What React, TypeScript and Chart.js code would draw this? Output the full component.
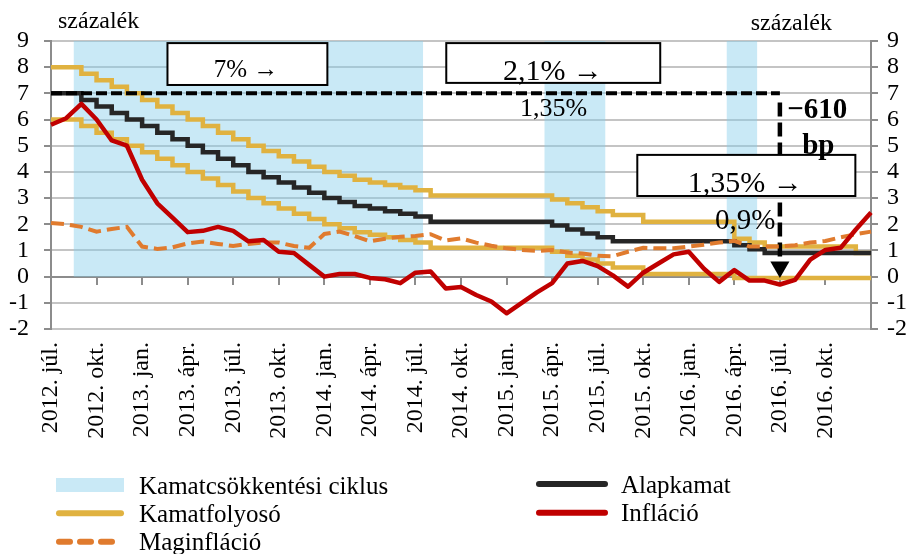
import React, { useEffect, useRef } from 'react';
import { Chart, registerables } from 'chart.js';

Chart.register(...registerables);

const FONT = '"Liberation Serif", "Times New Roman", serif';

const months = [
  '2012. júl.', '2012. aug.', '2012. szept.', '2012. okt.', '2012. nov.', '2012. dec.',
  '2013. jan.', '2013. febr.', '2013. márc.', '2013. ápr.', '2013. máj.', '2013. jún.',
  '2013. júl.', '2013. aug.', '2013. szept.', '2013. okt.', '2013. nov.', '2013. dec.',
  '2014. jan.', '2014. febr.', '2014. márc.', '2014. ápr.', '2014. máj.', '2014. jún.',
  '2014. júl.', '2014. aug.', '2014. szept.', '2014. okt.', '2014. nov.', '2014. dec.',
  '2015. jan.', '2015. febr.', '2015. márc.', '2015. ápr.', '2015. máj.', '2015. jún.',
  '2015. júl.', '2015. aug.', '2015. szept.', '2015. okt.', '2015. nov.', '2015. dec.',
  '2016. jan.', '2016. febr.', '2016. márc.', '2016. ápr.', '2016. máj.', '2016. jún.',
  '2016. júl.', '2016. aug.', '2016. szept.', '2016. okt.', '2016. nov.', '2016. dec.',
  '2017. jan.',
];

// Kamatcsökkentési ciklus (9 = inside an easing cycle, 0 = outside)
const easingCycle = [
  0, 0, 9, 9, 9, 9, 9, 9, 9, 9, 9, 9, 9, 9, 9, 9, 9, 9, 9, 9, 9, 9, 9, 9, 9,
  0, 0, 0, 0, 0, 0, 0, 0, 9, 9, 9, 9, 0, 0, 0, 0, 0, 0, 0, 0, 9, 9, 0, 0, 0,
  0, 0, 0, 0, 0,
];

const baseRate = [
  7, 7, 6.75, 6.5, 6.25, 6, 5.75, 5.5, 5.25, 5, 4.75, 4.5, 4.25, 4, 3.8, 3.6, 3.4, 3.2,
  3, 2.85, 2.7, 2.6, 2.5, 2.4, 2.3, 2.1, 2.1, 2.1, 2.1, 2.1, 2.1, 2.1, 2.1, 1.95, 1.8, 1.65,
  1.5, 1.35, 1.35, 1.35, 1.35, 1.35, 1.35, 1.35, 1.35, 1.2, 1.05, 0.9, 0.9, 0.9, 0.9, 0.9,
  0.9, 0.9, 0.9,
];

const corridorUpper = [
  8, 8, 7.75, 7.5, 7.25, 7, 6.75, 6.5, 6.25, 6, 5.75, 5.5, 5.25, 5, 4.8, 4.6, 4.4, 4.2,
  4, 3.85, 3.7, 3.6, 3.5, 3.4, 3.3, 3.1, 3.1, 3.1, 3.1, 3.1, 3.1, 3.1, 3.1, 2.95, 2.8, 2.65,
  2.5, 2.35, 2.35, 2.1, 2.1, 2.1, 2.1, 2.1, 2.1, 1.45, 1.3, 1.15, 1.15, 1.15, 1.15, 1.15,
  1.15, 0.9, 0.9,
];

const corridorLower = [
  6, 6, 5.75, 5.5, 5.25, 5, 4.75, 4.5, 4.25, 4, 3.75, 3.5, 3.25, 3, 2.8, 2.6, 2.4, 2.2,
  2, 1.85, 1.7, 1.6, 1.5, 1.4, 1.3, 1.1, 1.1, 1.1, 1.1, 1.1, 1.1, 1.1, 1.1, 0.95, 0.8, 0.65,
  0.5, 0.35, 0.35, 0.1, 0.1, 0.1, 0.1, 0.1, 0.1, -0.05, -0.05, -0.05, -0.05, -0.05, -0.05,
  -0.05, -0.05, -0.05, -0.05,
];

const inflation = [
  5.8, 6.05, 6.6, 6.0, 5.2, 5.0, 3.7, 2.8, 2.25, 1.7, 1.75, 1.9, 1.75, 1.35, 1.4, 0.95, 0.9,
  0.45, 0.0, 0.1, 0.1, -0.05, -0.1, -0.25, 0.15, 0.2, -0.45, -0.4, -0.7, -0.95, -1.4, -1.0,
  -0.6, -0.25, 0.5, 0.6, 0.4, 0.05, -0.38, 0.15, 0.5, 0.85, 0.95, 0.3, -0.2, 0.25, -0.15,
  -0.15, -0.3, -0.12, 0.65, 1.02, 1.1, 1.8, 2.45,
];

const coreInflation = [
  2.05, 2.0, 1.9, 1.72, 1.82, 1.9, 1.15, 1.06, 1.12, 1.27, 1.34, 1.25, 1.17, 1.25, 1.3, 1.3,
  1.17, 1.1, 1.63, 1.72, 1.55, 1.35, 1.45, 1.52, 1.55, 1.62, 1.38, 1.46, 1.3, 1.18, 1.08,
  1.02, 0.98, 1.02, 0.92, 0.88, 0.8, 0.78, 0.95, 1.1, 1.08, 1.08, 1.15, 1.22, 1.3, 1.37,
  1.15, 1.15, 1.15, 1.2, 1.3, 1.36, 1.5, 1.62, 1.72,
];

// 7% reference level held until the start of the arrow
const startLevel = [
  7, 7, 7, 7, 7, 7, 7, 7, 7, 7, 7, 7, 7, 7, 7, 7, 7, 7, 7, 7, 7, 7, 7, 7, 7, 7, 7, 7, 7,
  7, 7, 7, 7, 7, 7, 7, 7, 7, 7, 7, 7, 7, 7, 7, 7, 7, 7, 7, 7, null, null, null, null, null,
  null,
];

// −610 bp arrow: from / to (percent) at month label index
const arrowMonth = months[48];
const arrowLevels = [6.65, 0.37];

const BLUE = 'rgba(135, 206, 235, 0.45)';
const BLUE_SOLID = 'rgb(201, 233, 246)';
const YELLOW = '#E0B240';
const BLACK = '#262626';
const RED = '#C00000';
const ORANGE = '#E07B2E';
const GRID = '#c4c4c4';
const AXIS = '#8c8c8c';

const overlayPlugin = {
  id: 'overlay',
  afterDatasetsDraw(chart: any) {
    const ctx = chart.ctx as CanvasRenderingContext2D;
    const xs = chart.scales.x;
    const ys = chart.scales.y;
    const px = (i: number) => xs.getPixelForValue(i);
    const py = (v: number) => ys.getPixelForValue(v);
    ctx.save();
    const box = (i0: number, i1: number, v0: number, v1: number) => {
      const x0 = px(i0), x1 = px(i1), y0 = py(v0), y1 = py(v1);
      ctx.fillStyle = '#fff';
      ctx.fillRect(x0, y0, x1 - x0, y1 - y0);
      ctx.strokeStyle = '#000';
      ctx.lineWidth = 2;
      ctx.strokeRect(x0, y0, x1 - x0, y1 - y0);
    };
    const text = (s: string, i: number, v: number, size: number, align: CanvasTextAlign = 'center', bold = false) => {
      ctx.font = `${bold ? 'bold ' : ''}${size}px ${FONT}`;
      ctx.fillStyle = '#000';
      ctx.textAlign = align;
      ctx.textBaseline = 'alphabetic';
      ctx.fillText(s, px(i), py(v));
    };
    box(7.67, 18.2, 8.92, 7.32);
    text('7% →', 12.84, 7.62, 25);
    box(26.03, 40.12, 8.92, 7.4);
    text('2,1% →', 33.05, 7.51, 30);
    text('1,35%', 33.1, 6.13, 26);
    box(38.61, 52.97, 4.65, 3.08);
    text('−610', 48.49, 6.06, 29, 'left', true);
    text('bp', 50.53, 4.68, 29, 'center', true);
    text('1,35% →', 45.72, 3.23, 30);
    text('0,9%', 45.72, 1.82, 29);
    ctx.restore();
  },
  afterDraw(chart: any) {
    const ctx = chart.ctx as CanvasRenderingContext2D;
    const area = chart.chartArea;
    ctx.save();
    ctx.fillStyle = '#000';
    ctx.font = `24px ${FONT}`;
    ctx.textBaseline = 'alphabetic';
    ctx.textAlign = 'left';
    ctx.fillText('százalék', area.left + 7, area.top - 13);
    ctx.textAlign = 'right';
    ctx.fillText('százalék', area.right - 39, area.top - 11);

    // legend
    const rows = [485, 513.3, 541.7];
    const colL = 56, colR = 536, swW = 68, swWR = 72;
    const line = (x0: number, x1: number, y: number, color: string, dash: number[] = []) => {
      ctx.beginPath();
      ctx.setLineDash(dash);
      ctx.lineCap = 'round';
      ctx.lineWidth = 6;
      ctx.strokeStyle = color;
      ctx.moveTo(x0 + 3, y);
      ctx.lineTo(x1 - 3, y);
      ctx.stroke();
      ctx.setLineDash([]);
    };
    ctx.fillStyle = BLUE_SOLID;
    ctx.fillRect(colL, rows[0] - 7, swW, 14);
    line(colL, colL + swW, rows[1], YELLOW);
    line(colL, colL + swW, rows[2], ORANGE, [11, 10]);
    line(colR, colR + swWR, rows[0] - 1, BLACK);
    line(colR, colR + swWR, rows[1] - 0.5, RED);
    ctx.fillStyle = '#000';
    ctx.font = `25px ${FONT}`;
    ctx.textAlign = 'left';
    ctx.fillText('Kamatcsökkentési ciklus', 139, rows[0] + 8.5);
    ctx.fillText('Kamatfolyosó', 139, rows[1] + 8.5);
    ctx.fillText('Maginfláció', 139, rows[2] + 8.5);
    ctx.fillText('Alapkamat', 621, rows[0] + 8);
    ctx.fillText('Infláció', 621, rows[1] + 8);
    ctx.restore();
  },
};

export default function App() {
  const ref = useRef<HTMLCanvasElement>(null);
  useEffect(() => {
    document.body.style.margin = '0';
    const canvas = ref.current!;
    const tickFont = { family: FONT, size: 24 };
    const chart = new Chart(canvas, {
      type: 'line',
      data: {
        labels: months,
        datasets: [
          {
            label: 'Infláció', data: inflation, borderColor: RED, borderWidth: 4.5,
            pointRadius: 0, order: 1, borderJoinStyle: 'round',
          },
          {
            label: 'Maginfláció', data: coreInflation, borderColor: ORANGE, borderWidth: 4,
            borderDash: [13, 6], pointRadius: 0, order: 2,
          },
          {
            label: '−610 bp', data: [
              { x: arrowMonth, y: arrowLevels[0] },
              { x: arrowMonth, y: arrowLevels[1] },
            ] as any,
            borderColor: '#000', borderWidth: 4.5, borderDash: [14, 6],
            pointRadius: [0, 11], pointStyle: 'triangle', pointRotation: 180,
            pointBackgroundColor: '#000', pointBorderColor: '#000', pointBorderWidth: 0, order: 3,
          },
          {
            label: '7%', data: startLevel, borderColor: '#000', borderWidth: 4,
            borderDash: [11, 4], pointRadius: 0, order: 4,
          },
          {
            label: 'Alapkamat', data: baseRate, stepped: 'before', borderColor: BLACK,
            borderWidth: 4.5, pointRadius: 0, order: 5,
          },
          {
            label: 'Kamatfolyosó (felső)', data: corridorUpper, stepped: 'before', borderColor: YELLOW,
            borderWidth: 4.5, pointRadius: 0, order: 6,
          },
          {
            label: 'Kamatfolyosó (alsó)', data: corridorLower, stepped: 'before', borderColor: YELLOW,
            borderWidth: 4.5, pointRadius: 0, order: 7,
          },
          {
            label: 'Kamatcsökkentési ciklus', data: easingCycle, stepped: 'middle', fill: 'origin',
            backgroundColor: BLUE, borderColor: 'transparent', borderWidth: 0, pointRadius: 0, order: 10,
          },
        ] as any,
      },
      options: {
        animation: false,
        responsive: false,
        devicePixelRatio: 1,
        layout: { padding: { top: 41, bottom: 100, left: 0, right: 0 } },
        plugins: { legend: { display: false }, tooltip: { enabled: false } },
        elements: { line: { tension: 0 } },
        scales: {
          x: {
            type: 'category', position: { y: 0 } as any, offset: false,
            grid: {
              drawOnChartArea: false, drawTicks: true, tickLength: 7, lineWidth: 2, offset: false,
              color: (c: any) => (c.index % 3 === 0 ? AXIS : 'rgba(0,0,0,0)'),
            },
            border: { color: AXIS, width: 2 },
            ticks: { display: false, autoSkip: false },
          },
          x2: {
            type: 'category', position: 'bottom', offset: false,
            grid: { display: false, drawTicks: false, offset: false },
            border: { display: false },
            ticks: {
              autoSkip: false, maxRotation: 90, minRotation: 90, padding: 13,
              font: tickFont, color: '#000',
              callback: (_v: any, i: number) => (i % 3 === 0 && i < 54 ? months[i] : ''),
            },
            afterFit: (s: any) => { s.height = 125; },
          },
          y: {
            position: 'left', min: -2, max: 9,
            ticks: { stepSize: 1, autoSkip: false, padding: 15, font: tickFont, color: '#000' },
            grid: { color: GRID, lineWidth: 2, tickLength: 7, tickColor: AXIS },
            border: { color: AXIS, width: 2 },
            afterFit: (s: any) => { s.width = 51; },
          },
          y2: {
            position: 'right', min: -2, max: 9,
            ticks: { stepSize: 1, autoSkip: false, padding: 9, font: tickFont, color: '#000' },
            grid: { drawOnChartArea: false, lineWidth: 2, tickLength: 7, color: AXIS },
            border: { color: AXIS, width: 2 },
            afterFit: (s: any) => { s.width = 42; },
          },
        },
      } as any,
      plugins: [overlayPlugin],
    });
    return () => chart.destroy();
  }, []);
  return <canvas ref={ref} width={913} height={554} style={{ display: 'block' }} />;
}
